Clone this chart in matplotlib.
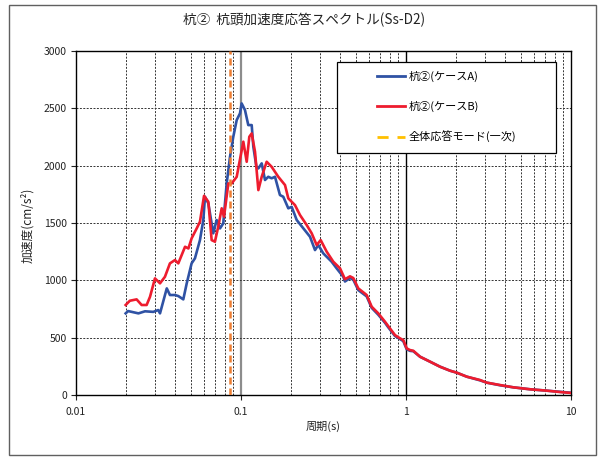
import matplotlib
matplotlib.use("Agg")
import matplotlib.pyplot as plt
from matplotlib.lines import Line2D
from matplotlib.patches import Rectangle
from matplotlib.ticker import LogLocator

plt.rcParams["font.family"] = ["Noto Sans CJK JP", "DejaVu Sans"]

# Case A (blue) - period [s], acceleration [cm/s2]
period_a = [0.0200, 0.0207, 0.0239, 0.0262, 0.0294, 0.0315, 0.0323, 0.0355,
            0.0371, 0.0398, 0.0417, 0.0447, 0.0469, 0.0502, 0.0526, 0.0564,
            0.0591, 0.0605, 0.0634, 0.0679, 0.0712, 0.0746, 0.0781, 0.0819,
            0.0858, 0.0898, 0.0942, 0.0986, 0.1009, 0.1057, 0.1107, 0.1161,
            0.1188, 0.1240, 0.1274, 0.1335, 0.1398, 0.1463, 0.1534, 0.1607,
            0.1722, 0.1804, 0.1935, 0.2028, 0.2176, 0.2388, 0.2620, 0.2809,
            0.2941, 0.3153, 0.3545, 0.3801, 0.4169, 0.4267, 0.4578, 0.4794,
            0.5137, 0.5777, 0.6194, 0.6792, 0.7459, 0.7811, 0.8570, 0.9197,
            0.9630, 1.009, 1.057, 1.107, 1.216, 1.397, 1.607, 1.849, 2.029,
            2.333, 2.807, 3.083, 3.715, 4.469, 5.645, 7.127, 8.577, 10.0]
accel_a = [712, 732, 712, 730, 725, 741, 712, 930,
           872, 872, 863, 834, 974, 1148, 1192, 1351,
           1526, 1729, 1671, 1410, 1526, 1453, 1497, 1846,
           2078, 2252, 2398, 2456, 2543, 2485, 2354, 2354,
           2165, 1990, 1976, 2020, 1875, 1903, 1890, 1903,
           1744, 1729, 1628, 1641, 1526, 1453, 1380, 1264,
           1308, 1235, 1162, 1104, 1031, 990, 1020, 1005,
           915, 860, 760, 700, 630, 590, 515, 488,
           470, 400, 385, 382, 334, 291, 247, 212, 195,
           160, 128, 108, 85, 67, 50, 38, 28, 20]

# Case B (red)
period_b = [0.0200, 0.0212, 0.0233, 0.0250, 0.0268, 0.0281, 0.0301, 0.0323,
            0.0346, 0.0371, 0.0398, 0.0417, 0.0458, 0.0480, 0.0502, 0.0539,
            0.0564, 0.0597, 0.0634, 0.0664, 0.0695, 0.0728, 0.0764, 0.0789,
            0.0838, 0.0878, 0.0942, 0.1033, 0.1083, 0.1123, 0.1161, 0.1216,
            0.1274, 0.1335, 0.1431, 0.1534, 0.1683, 0.1848, 0.1935, 0.2124,
            0.2279, 0.2502, 0.2682, 0.2874, 0.3040, 0.3306, 0.3627, 0.3981,
            0.4267, 0.4578, 0.4794, 0.5137, 0.5777, 0.6194, 0.6792, 0.7459,
            0.7811, 0.8570, 0.9197, 0.9630, 1.009, 1.057, 1.107, 1.216,
            1.397, 1.607, 1.849, 2.029, 2.333, 2.807, 3.083, 3.715, 4.469,
            5.645, 7.127, 8.577, 10.0]
accel_b = [785, 822, 834, 785, 785, 857, 1017, 974,
           1031, 1148, 1177, 1148, 1293, 1278, 1366, 1453,
           1511, 1737, 1685, 1351, 1337, 1468, 1628, 1555,
           1845, 1845, 1903, 2209, 2034, 2252, 2281, 2121,
           1787, 1903, 2034, 1990, 1903, 1831, 1715, 1656,
           1569, 1482, 1410, 1308, 1351, 1250, 1162, 1105,
           1010, 1035, 1020, 930, 872, 770, 712, 639,
           600, 523, 494, 479, 407, 392, 386, 334,
           291, 247, 212, 195, 160, 131, 108, 87, 67,
           50, 38, 26, 18]

mode_period = 0.0855  # global response mode (1st)
decades = [0.01, 0.1, 1, 10]
decade_labels = ["0.01", "0.1", "1", "10"]
y_ticks = [0, 500, 1000, 1500, 2000, 2500, 3000]

blue = "#2F52A4"
red = "#EE1C2E"
orange = "#ED7D31"
gold = "#FFC000"

fig = plt.figure(figsize=(6.04, 4.59), dpi=100)
fig.patches.append(Rectangle((0.0149, 0.0087), 0.972, 0.980, transform=fig.transFigure,
                             fill=False, edgecolor="#606060", lw=1.0))
ax = fig.add_axes([0.1258, 0.1394, 0.8196, 0.7495])

ax.set_xscale("log")
ax.set_xlim(0.01, 10)
ax.set_ylim(0, 3000)
ax.set_xticks(decades, labels=decade_labels)
ax.set_yticks(y_ticks)
ax.xaxis.set_minor_locator(LogLocator(base=10, subs=range(2, 10)))
ax.xaxis.set_minor_formatter(plt.NullFormatter())

grid_kw = dict(color="#333333", linestyle=(0, (2, 1.5)), linewidth=0.7)
ax.grid(which="minor", axis="x", **grid_kw)
ax.grid(which="major", axis="y", **grid_kw)
ax.axvline(decades[1], color="#8c8c8c", lw=1.6, zorder=1)
ax.axvline(decades[2], color="black", lw=1.0, zorder=1)

ax.tick_params(which="minor", length=0)
ax.tick_params(which="major", direction="out", length=3.5, width=0.8,
               labelsize=7.5, pad=3, colors="#222222")
ax.tick_params(axis="x", which="major", pad=5)
for s in ax.spines.values():
    s.set_linewidth(1.0)

ax.plot(period_a, accel_a, color=blue, lw=1.9, zorder=3)
ax.plot(period_b, accel_b, color=red, lw=1.9, zorder=4)
ax.axvline(mode_period, color=orange, lw=1.8, dashes=(2.8, 1.6), zorder=5)

# legend box
ax.add_patch(Rectangle((0.527, 0.703), 0.443, 0.265, transform=ax.transAxes,
                       facecolor="white", edgecolor="black", lw=0.9, zorder=6))
handles = [Line2D([], [], color=blue, lw=2),
           Line2D([], [], color=red, lw=2),
           Line2D([], [], color=gold, lw=2, dashes=(4, 3.2))]
labels = ["杭②(ケースA)", "杭②(ケースB)", "全体応答モード(一次)"]
leg = ax.legend(handles, labels, loc="upper left", bbox_to_anchor=(0.596, 0.957),
                frameon=False, borderpad=0, handlelength=2.6, handletextpad=0.3,
                labelspacing=1.7, fontsize=8)
leg.set_zorder(7)

fig.text(0.503, 0.957, "杭②  杭頭加速度応答スペクトル(Ss-D2)", ha="center", va="center",
         fontsize=9.8, color="#222222")
fig.text(0.535, 0.070, "周期(s)", ha="center", va="center", fontsize=8, color="#222222")
fig.text(0.046, 0.51, "加速度(cm/s²)", ha="center", va="center", rotation=90,
         fontsize=8.5, color="#222222")

fig.savefig("out.png", dpi=100)
